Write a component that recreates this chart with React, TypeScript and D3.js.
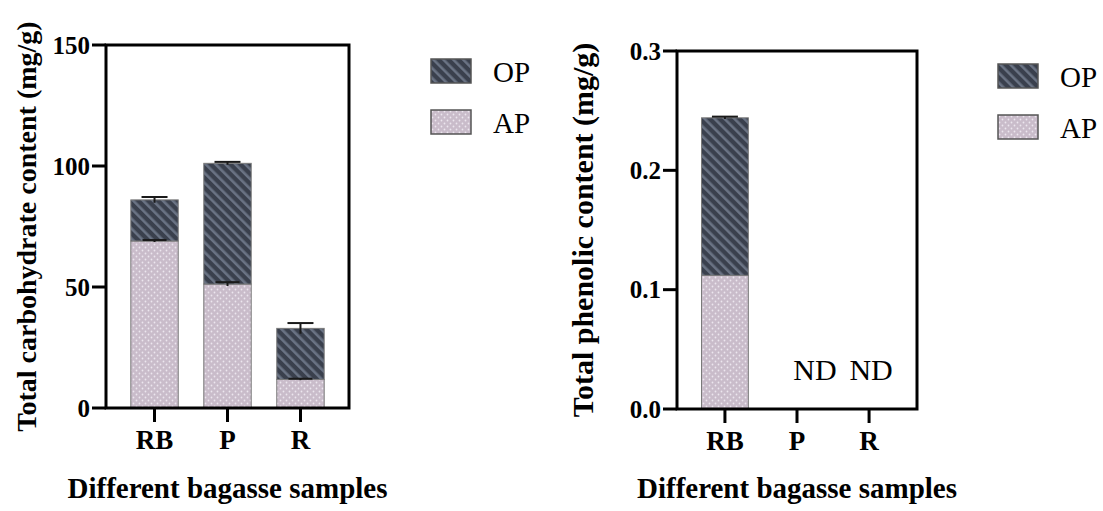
import React from "react";
import * as d3 from "d3";

// Sample categories
const categories = ["RB", "P", "R"];

// Total carbohydrate content (mg/g): acid-soluble (AP) and other (OP) parts, stacked
const carbAP = [69.0, 51.2, 11.8];
const carbOP = [17.0, 49.9, 21.1];
const carbAPErr = [0.4, 0.8, 0.3];
const carbTotalErr = [1.2, 0.6, 2.2];

// Total phenolic content (mg/g); P and R not detected
const phenAP = [0.112, null, null];
const phenOP = [0.132, null, null];
const phenTotalErr = [0.001, null, null];
const phenLabels = ["", "ND", "ND"];

const carbTicks = [0, 50, 100, 150];
const phenTicks = [0, 0.1, 0.2, 0.3];

const legendItems = [
  { key: "OP", fill: "url(#opPattern)" },
  { key: "AP", fill: "url(#apPattern)" },
];

const FONT = "'Liberation Serif', 'Times New Roman', serif";

type PanelProps = {
  x0: number;
  x1: number;
  yTop: number;
  yBottom: number;
  domainMax: number;
  ticks: number[];
  tickFmt: (v: number) => string;
  ap: (number | null)[];
  op: (number | null)[];
  apErr?: (number | null)[];
  totalErr: (number | null)[];
  notes?: string[];
  noteDx?: number[];
  yTitle: string;
  yTitleX: number;
  yTitleSize: number;
  xTitle: string;
  legendX: number;
  legendY: number;
};

function Panel(p: PanelProps) {
  const x = d3
    .scaleBand<string>()
    .domain(categories)
    .range([p.x0, p.x1])
    .paddingInner(0.35)
    .paddingOuter(0.34);
  const y = d3.scaleLinear().domain([0, p.domainMax]).range([p.yBottom, p.yTop]);
  const bw = x.bandwidth();
  const midY = (p.yTop + p.yBottom) / 2;

  return (
    <g>
      {/* bars */}
      {categories.map((c, i) => {
        const a = p.ap[i];
        const o = p.op[i];
        if (a == null || o == null) return null;
        const bx = x(c)!;
        const total = a + o;
        return (
          <g key={c}>
            <rect x={bx} y={y(a)} width={bw} height={y(0) - y(a)} fill="url(#apPattern)" stroke="#7a7a7a" strokeWidth={1} />
            <rect x={bx} y={y(total)} width={bw} height={y(a) - y(total)} fill="url(#opPattern)" stroke="#7a7a7a" strokeWidth={1} />
          </g>
        );
      })}
      {/* error bars */}
      {categories.map((c, i) => {
        const a = p.ap[i];
        const o = p.op[i];
        if (a == null || o == null) return null;
        const cx = x(c)! + bw / 2;
        const total = a + o;
        const te = p.totalErr[i] ?? 0;
        const ae = p.apErr ? p.apErr[i] ?? 0 : 0;
        return (
          <g key={c + "e"}>
            {ae > 0 && (
              <g stroke="#1a1a1a" strokeWidth={2}>
                <line x1={cx} x2={cx} y1={y(a - ae)} y2={y(a + ae)} />
                <line x1={cx - 12} x2={cx + 12} y1={y(a + ae)} y2={y(a + ae)} />
              </g>
            )}
            <g stroke="#1a1a1a" strokeWidth={2}>
              <line x1={cx} x2={cx} y1={y(total - te)} y2={y(total + te)} />
              <line x1={cx - 13} x2={cx + 13} y1={y(total + te)} y2={y(total + te)} />
            </g>
          </g>
        );
      })}
      {/* notes */}
      {p.notes &&
        categories.map((c, i) =>
          p.notes![i] ? (
            <text
              key={c + "n"}
              x={x(c)! + bw / 2 + (p.noteDx ? p.noteDx[i] : 0)}
              y={y(0) - 29}
              textAnchor="middle"
              fontFamily={FONT}
              fontSize={30}
              fill="#000"
            >
              {p.notes![i]}
            </text>
          ) : null
        )}
      {/* frame */}
      <rect x={p.x0} y={p.yTop} width={p.x1 - p.x0} height={p.yBottom - p.yTop} fill="none" stroke="#000" strokeWidth={3} />
      {/* y ticks */}
      {p.ticks.map((t) => (
        <g key={t}>
          <line x1={p.x0 - 14} x2={p.x0} y1={y(t)} y2={y(t)} stroke="#000" strokeWidth={3} />
          <text x={p.x0 - 16} y={y(t)} dy="0.34em" textAnchor="end" fontFamily={FONT} fontWeight="bold" fontSize={25} fill="#000">
            {p.tickFmt(t)}
          </text>
        </g>
      ))}
      {/* x ticks */}
      {categories.map((c) => {
        const cx = x(c)! + bw / 2;
        return (
          <g key={c + "t"}>
            <line x1={cx} x2={cx} y1={p.yBottom} y2={p.yBottom + 14} stroke="#000" strokeWidth={3} />
            <text x={cx} y={p.yBottom + 41} textAnchor="middle" fontFamily={FONT} fontWeight="bold" fontSize={27} fill="#000">
              {c}
            </text>
          </g>
        );
      })}
      {/* axis titles */}
      <text
        transform={`translate(${p.yTitleX},${midY}) rotate(-90)`}
        textAnchor="middle"
        fontFamily={FONT}
        fontWeight="bold"
        fontSize={p.yTitleSize}
        fill="#000"
      >
        {p.yTitle}
      </text>
      <text x={(p.x0 + p.x1) / 2} y={498} textAnchor="middle" fontFamily={FONT} fontWeight="bold" fontSize={29} fill="#000">
        {p.xTitle}
      </text>
      {/* legend */}
      {legendItems.map((l, i) => (
        <g key={l.key} transform={`translate(${p.legendX},${p.legendY + i * 51})`}>
          <rect x={0} y={0} width={40} height={24} fill={l.fill} stroke="#555" strokeWidth={1.5} />
          <text x={62} y={23} fontFamily={FONT} fontSize={29} fill="#000">
            {l.key}
          </text>
        </g>
      ))}
    </g>
  );
}

export default function App() {
  return (
    <svg width={1103} height={511} style={{ position: "absolute", left: 0, top: 0, background: "#fff" }}>
      <defs>
        <pattern id="opPattern" patternUnits="userSpaceOnUse" width={7} height={7} patternTransform="rotate(-45)">
          <rect width={7} height={7} fill="#3a404d" />
          <rect x={0} y={0} width={2.6} height={7} fill="#6a7384" />
        </pattern>
        <pattern id="apPattern" patternUnits="userSpaceOnUse" width={6} height={6}>
          <rect width={6} height={6} fill="#c9bcca" />
          <circle cx={1.5} cy={1.5} r={0.9} fill="#ece6ee" />
          <circle cx={4.5} cy={4.5} r={0.9} fill="#ece6ee" />
        </pattern>
      </defs>
      <Panel
        x0={106}
        x1={349}
        yTop={45}
        yBottom={408}
        domainMax={150}
        ticks={carbTicks}
        tickFmt={(v) => d3.format("d")(v)}
        ap={carbAP}
        op={carbOP}
        apErr={carbAPErr}
        totalErr={carbTotalErr}
        yTitle="Total carbohydrate content (mg/g)"
        yTitleX={36}
        yTitleSize={28}
        xTitle="Different bagasse samples"
        legendX={431}
        legendY={59}
      />
      <Panel
        x0={677}
        x1={917}
        yTop={51}
        yBottom={409}
        domainMax={0.3}
        ticks={phenTicks}
        tickFmt={(v) => d3.format(".1f")(v)}
        ap={phenAP}
        op={phenOP}
        totalErr={phenTotalErr}
        notes={phenLabels}
        noteDx={[0, 18, 2]}
        yTitle="Total phenolic content (mg/g)"
        yTitleX={593}
        yTitleSize={30}
        xTitle="Different bagasse samples"
        legendX={998}
        legendY={64}
      />
    </svg>
  );
}
